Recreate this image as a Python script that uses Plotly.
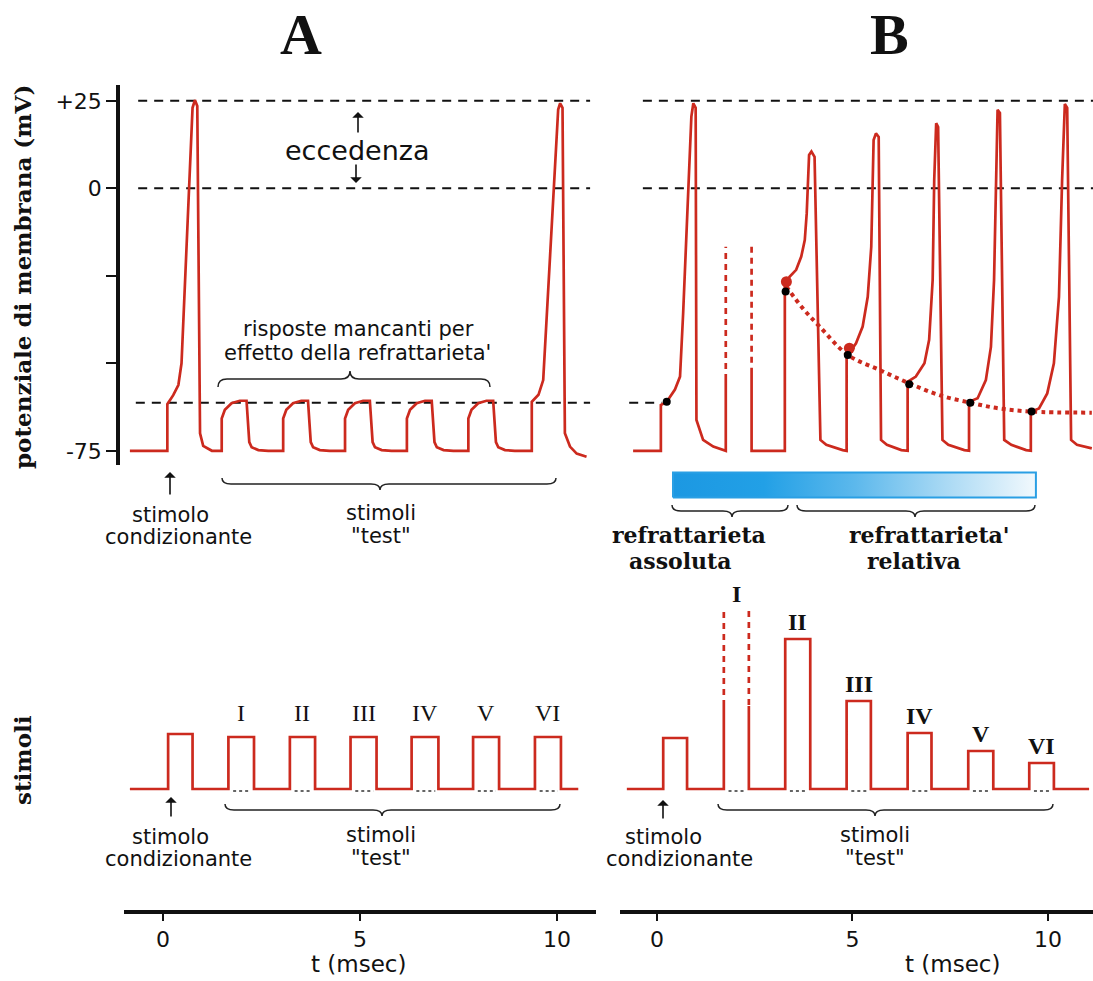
import plotly.graph_objects as go

W, H = 1093, 981
RED = '#cc2a1e'
BLK = '#111111'

# ---------------- DATA ----------------
# Panel A membrane potential (t in ms, V in mV)
A_start_t = -0.84
A_spike1_t = [0.11, 0.11, 0.26, 0.39, 0.47, 0.75, 0.81, 0.87, 0.94, 1.02, 1.24]
A_spike1_v = [-75.0, -61.7, -59.1, -56.2, -50.0, 23.0, 25.2, 23.5, -70.0, -73.6, -75.0]
A_test_onsets = [1.49, 3.05, 4.62, 6.19, 7.75]
A_test_dt = [0.0, 0.0, 0.08, 0.25, 0.46, 0.63, 0.70, 0.76, 0.93, 1.18]
A_test_v = [-75.0, -65.8, -63.3, -61.4, -60.7, -60.7, -72.5, -74.0, -74.8, -75.0]
A_spike2_t = [9.36, 9.36, 9.53, 9.65, 10.03, 10.08, 10.14, 10.20, 10.33, 10.50, 10.75]
A_spike2_v = [-75.0, -61.0, -59.0, -54.8, 22.5, 24.3, 23.0, -70.0, -73.8, -75.8, -76.7]

# Panel B membrane potential
B_spike1_t = [-0.61, 0.10, 0.10, 0.25, 0.46, 0.59, 0.67, 0.80, 0.88, 0.93, 0.99, 1.01, 1.18, 1.44, 1.73, 1.76, 1.76]
B_spike1_v = [-75.0, -75.0, -61.9, -61.0, -57.5, -53.8, -35.7, 2.4, 20.5, 24.3, 23.0, -66.2, -71.9, -73.8, -74.8, -75.0, -54.8]
B_I_t = [1.76, 2.42]
B_I_solid_top = [-54.8, -51.9]
B_I_dash_top = -16.7
B_II_t = [2.42, 2.42, 3.27, 3.27, 3.39, 3.56, 3.69, 3.78, 3.83, 3.86, 3.89, 3.95, 4.03, 4.18, 4.33, 4.75]
B_II_v = [-51.9, -75.0, -75.0, -28.1, -25.3, -23.3, -19.5, -14.8, -7.1, 2.4, 9.5, 10.5, 9.0, -71.9, -73.3, -74.8]
B_III_t = [4.85, 4.85, 5.09, 5.26, 5.39, 5.48, 5.52, 5.54, 5.60, 5.67, 5.73, 5.88, 6.25]
B_III_v = [-75.0, -48.1, -44.3, -39.5, -31.0, -16.7, 2.4, 13.8, 15.7, 14.7, -71.9, -73.3, -74.8]
B_IV_t = [6.41, 6.41, 6.62, 6.84, 6.96, 7.05, 7.09, 7.14, 7.19, 7.30, 7.45, 7.86]
B_IV_v = [-75.0, -55.3, -53.8, -50.0, -43.3, -26.2, 2.4, 18.6, 17.5, -71.9, -73.3, -74.8]
B_V_t = [7.98, 7.98, 8.20, 8.41, 8.54, 8.62, 8.67, 8.71, 8.77, 8.88, 9.06, 9.44]
B_V_v = [-75.0, -61.0, -60.0, -54.8, -45.3, -26.2, 2.4, 22.4, 21.5, -71.9, -73.3, -74.8]
B_VI_t = [9.56, 9.56, 9.77, 9.98, 10.15, 10.28, 10.36, 10.43, 10.49, 10.59, 10.74, 11.12]
B_VI_v = [-75.0, -63.8, -62.9, -58.6, -50.0, -31.0, 2.4, 24.1, 23.0, -71.9, -73.3, -74.3]

B_thr_dots_t = [0.25, 3.29, 4.88, 6.45, 8.01, 9.58]
B_thr_dots_v = [-61.0, -29.5, -47.6, -56.0, -61.3, -63.8]
B_red_dots_t = [3.31, 4.92]
B_red_dots_v = [-26.7, -45.7]
B_thr_curve_t = [3.31, 3.73, 4.16, 4.88, 5.69, 6.45, 7.22, 8.03, 8.75, 9.58, 11.12]
B_thr_curve_v = [-28.1, -34.3, -39.5, -47.6, -51.9, -55.7, -59.1, -61.3, -62.9, -63.8, -64.1]

# Stimuli (amplitude in arbitrary units)
stim_labels = ['I', 'II', 'III', 'IV', 'V', 'VI']
A_stim_on = [0.13, 1.66, 3.22, 4.76, 6.31, 7.87, 9.44]
A_stim_off = [0.75, 2.31, 3.86, 5.42, 6.99, 8.53, 10.10]
A_stim_amp = [5.5, 5.2, 5.2, 5.2, 5.2, 5.2, 5.2]
A_stim_range = [-0.84, 10.54]
B_stim_on = [0.16, 1.71, 3.28, 4.85, 6.41, 7.96, 9.52]
B_stim_off = [0.77, 2.35, 3.92, 5.47, 7.02, 8.60, 10.15]
B_stim_amp = [5.1, 17.8, 15.0, 8.8, 5.6, 3.8, 2.6]
B_stim_I_solid = 8.3
B_stim_range = [-0.77, 11.05]

# refractory bar (ms)
B_abs_refr = [0.41, 3.27]
B_rel_refr = [3.27, 9.69]

# ---------------- HELPERS ----------------
def px(x):
    return x / W

def py(y):
    return 1 - y / H

fig = go.Figure()

def line(x, y, xa, ya, color=RED, width=2.7, dash='solid', shape='linear'):
    fig.add_trace(go.Scatter(x=x, y=y, xaxis=xa, yaxis=ya, mode='lines',
                             line=dict(color=color, width=width, dash=dash, shape=shape),
                             hoverinfo='skip', showlegend=False))

# ---- Panel A membrane
At = [A_start_t] + A_spike1_t
Av = [-75.0] + A_spike1_v
for on in A_test_onsets:
    At += [on + d for d in A_test_dt]
    Av += A_test_v
At += A_spike2_t
Av += A_spike2_v
line(At, Av, 'x', 'y')

# ---- Panel B membrane
line(B_spike1_t, B_spike1_v, 'x2', 'y2')
line([B_I_t[0], B_I_t[0]], [B_I_solid_top[0], B_I_dash_top], 'x2', 'y2', dash='6px,5px')
line([B_I_t[1], B_I_t[1]], [B_I_dash_top, B_I_solid_top[1]], 'x2', 'y2', dash='6px,5px')
Bt = B_II_t + B_III_t + B_IV_t + B_V_t + B_VI_t
Bv = B_II_v + B_III_v + B_IV_v + B_V_v + B_VI_v
line(Bt, Bv, 'x2', 'y2')
fig.add_trace(go.Scatter(x=B_thr_curve_t, y=B_thr_curve_v, xaxis='x2', yaxis='y2', mode='lines',
                         line=dict(color=RED, width=4, dash='dot', shape='spline'),
                         hoverinfo='skip', showlegend=False))
fig.add_trace(go.Scatter(x=B_red_dots_t, y=B_red_dots_v, xaxis='x2', yaxis='y2', mode='markers',
                         marker=dict(color=RED, size=11), hoverinfo='skip', showlegend=False))
fig.add_trace(go.Scatter(x=B_thr_dots_t, y=B_thr_dots_v, xaxis='x2', yaxis='y2', mode='markers',
                         marker=dict(color='black', size=8), hoverinfo='skip', showlegend=False))

# ---- Stimuli
def stim_trace(on, off, amp, rng, xa, ya, skip_first_test=False):
    xs, ys = [rng[0]], [0.0]
    for i, (a, b, h) in enumerate(zip(on, off, amp)):
        if skip_first_test and i == 1:
            xs += [a, a, None, b, b]
            ys += [0, B_stim_I_solid, None, B_stim_I_solid, 0]
        else:
            xs += [a, a, b, b]
            ys += [0, h, h, 0]
    xs.append(rng[1]); ys.append(0.0)
    line(xs, ys, xa, ya)
    # dotted baseline under test pulses
    dx, dy = [], []
    for a, b in zip(on[1:], off[1:]):
        dx += [a + 0.12, b - 0.08, None]
        dy += [-0.2, -0.2, None]
    line(dx, dy, xa, ya, color='#333333', width=1.6, dash='dot')

stim_trace(A_stim_on, A_stim_off, A_stim_amp, A_stim_range, 'x', 'y3')
stim_trace(B_stim_on, B_stim_off, B_stim_amp, B_stim_range, 'x2', 'y4', skip_first_test=True)
line([B_stim_on[1], B_stim_on[1]], [B_stim_I_solid, B_stim_amp[1]], 'x2', 'y4', dash='6px,5px')
line([B_stim_off[1], B_stim_off[1]], [B_stim_amp[1], B_stim_I_solid], 'x2', 'y4', dash='6px,5px')

# ---- refractory bar with gradient
fig.add_trace(go.Scatter(x=[B_abs_refr[0], B_rel_refr[1], B_rel_refr[1], B_abs_refr[0], B_abs_refr[0]],
                         y=[0, 0, 1, 1, 0], xaxis='x2', yaxis='y5', mode='lines', fill='toself',
                         line=dict(color='#2a9fe4', width=2),
                         fillgradient=dict(type='horizontal',
                                           colorscale=[[0, '#1c98e2'], [0.25, '#22a0e6'], [0.5, '#5cb8ec'],
                                                       [0.75, '#a9d9f4'], [1, '#f2f9fd']]),
                         hoverinfo='skip', showlegend=False))

# ---------------- AXES ----------------
def vmap(ypix):
    return (188.3 - ypix) / 3.5

ax_font = dict(family='DejaVu Sans', size=22, color=BLK)
xa_common = dict(showgrid=False, zeroline=False, showline=True, linecolor=BLK, linewidth=3.5,
                 ticks='outside', tickvals=[0, 5, 10], ticklen=7, tickwidth=2, tickcolor=BLK,
                 tickfont=ax_font, anchor='free', position=py(912))
mem_dom = [py(465), py(85)]
mem_rng = [vmap(465), vmap(85)]
stim_dom = [py(800), py(580)]
stim_rng = [-1.1, 20.9]

fig.update_layout(
    width=W, height=H, autosize=False,
    margin=dict(l=0, r=0, t=0, b=0),
    paper_bgcolor='white', plot_bgcolor='white',
    xaxis=dict(domain=[px(123.6), px(596.4)], range=[-1.0, 11.0], **xa_common),
    xaxis2=dict(domain=[px(619.8), 1.0], range=[-0.95, 11.15], **xa_common),
    yaxis=dict(domain=mem_dom, range=mem_rng, anchor='free', position=px(118),
               showgrid=False, zeroline=False, showline=True, linecolor=BLK, linewidth=3.5,
               ticks='outside', tickvals=[-75, -50, -25, 0, 25], ticktext=['-75', '', '', '0', '+25'],
               ticklen=10, tickwidth=2, tickcolor=BLK, tickfont=dict(family='DejaVu Sans', size=22, color=BLK)),
    yaxis2=dict(domain=mem_dom, range=mem_rng, anchor='x2', visible=False),
    yaxis3=dict(domain=stim_dom, range=stim_rng, anchor='x', visible=False),
    yaxis4=dict(domain=stim_dom, range=stim_rng, anchor='x2', visible=False),
    yaxis5=dict(domain=[py(500), py(470)], range=[-0.1, 1.1], anchor='x2', visible=False),
)

# ---- reference dashed lines
dash_lines = [
    ('x', 'y', -0.63, 10.84, 25), ('x', 'y', -0.63, 10.84, 0), ('x', 'y', -0.69, 10.84, -61.3),
    ('x2', 'y2', -0.36, 11.15, 25), ('x2', 'y2', -0.36, 11.15, 0), ('x2', 'y2', -0.71, 0.12, -61.3),
]
for xr, yr, x0, x1, v in dash_lines:
    fig.add_shape(type='line', xref=xr, yref=yr, x0=x0, x1=x1, y0=v, y1=v,
                  line=dict(color=BLK, width=2, dash='9px,7px'), layer='below')

# ---- braces
def brace(x0, x1, y, tip, d=1, h=6, r=9):
    p = (f"M {px(x0)},{py(y - d*h)} Q {px(x0)},{py(y)} {px(x0 + r)},{py(y)} "
         f"L {px(tip - r)},{py(y)} Q {px(tip)},{py(y)} {px(tip)},{py(y + d*h)} "
         f"Q {px(tip)},{py(y)} {px(tip + r)},{py(y)} L {px(x1 - r)},{py(y)} "
         f"Q {px(x1)},{py(y)} {px(x1)},{py(y - d*h)}")
    fig.add_shape(type='path', xref='paper', yref='paper', path=p,
                  line=dict(color='#222222', width=1.5))

brace(218, 490, 379, 350, d=-1, h=8)
brace(222, 556, 484, 380)
brace(225, 560, 810, 382)
brace(718, 1053, 810, 875)
brace(672, 788, 511, 732)
brace(797, 1035, 511, 915)

# ---- text
def txt(x, y, s, size=21, family='DejaVu Sans', color=BLK, angle=0, bold=False):
    if bold:
        s = f'<b>{s}</b>'
    fig.add_annotation(x=px(x), y=py(y), xref='paper', yref='paper', text=s, showarrow=False,
                       font=dict(family=family, size=size, color=color), textangle=angle,
                       xanchor='center', yanchor='middle')

def arrow(x, yhead, ytail):
    fig.add_annotation(x=px(x), y=py(yhead), xref='paper', yref='paper', text='',
                       showarrow=True, ax=0, ay=ytail - yhead, arrowhead=1, arrowsize=1.2,
                       arrowwidth=1.6, arrowcolor=BLK)

txt(301, 34, 'A', size=58, family='Liberation Serif', bold=True)
txt(889, 34, 'B', size=58, family='Liberation Serif', bold=True)
txt(22, 277, 'potenziale di membrana (mV)', size=23, family='DejaVu Serif', angle=-90, bold=True)
txt(22, 760, 'stimoli', size=23, family='DejaVu Serif', angle=-90, bold=True)

txt(357, 150, 'eccedenza', size=27)
arrow(358, 112, 134)
arrow(356, 183, 163)
txt(358, 329, 'risposte mancanti per', size=21)
txt(357, 353, "effetto della refrattarieta'", size=21)

for yoff in (0, 322):
    txt(170, 515 + yoff, 'stimolo', size=21)
    txt(178, 537 + yoff, 'condizionante', size=21)
    txt(381, 513 + yoff, 'stimoli', size=21)
    txt(381, 536 + yoff, '"test"', size=21)
arrow(170, 472, 496)
arrow(171, 797, 818)
txt(663, 837, 'stimolo', size=21)
txt(679, 859, 'condizionante', size=21)
txt(875, 835, 'stimoli', size=21)
txt(875, 858, '"test"', size=21)
arrow(663, 800, 820)

txt(689, 535, 'refrattarieta', size=22, family='DejaVu Serif', bold=True)
txt(680, 561, 'assoluta', size=22, family='DejaVu Serif', bold=True)
txt(929, 535, "refrattarieta'", size=22, family='DejaVu Serif', bold=True)
txt(914, 561, 'relativa', size=22, family='DejaVu Serif', bold=True)

txt(358, 964, 't (msec)', size=23)
txt(952, 964, 't (msec)', size=23)

# roman numerals above stimuli
for lab, a, b, h in zip(stim_labels, A_stim_on[1:], A_stim_off[1:], A_stim_amp[1:]):
    fig.add_annotation(x=(a + b) / 2, y=h + 2.4, xref='x', yref='y3', text=lab, showarrow=False,
                       font=dict(family='Liberation Serif', size=24, color=BLK), yanchor='middle')
for lab, a, b, h in zip(stim_labels, B_stim_on[1:], B_stim_off[1:], B_stim_amp[1:]):
    fig.add_annotation(x=(a + b) / 2, y=h + 1.7, xref='x2', yref='y4', text=f'<b>{lab}</b>', showarrow=False,
                       font=dict(family='Liberation Serif', size=24, color=BLK), yanchor='middle')

fig.write_html('out.html', config={'displayModeBar': False},
               post_script="document.body.style.margin='0';document.body.style.overflow='hidden';")
